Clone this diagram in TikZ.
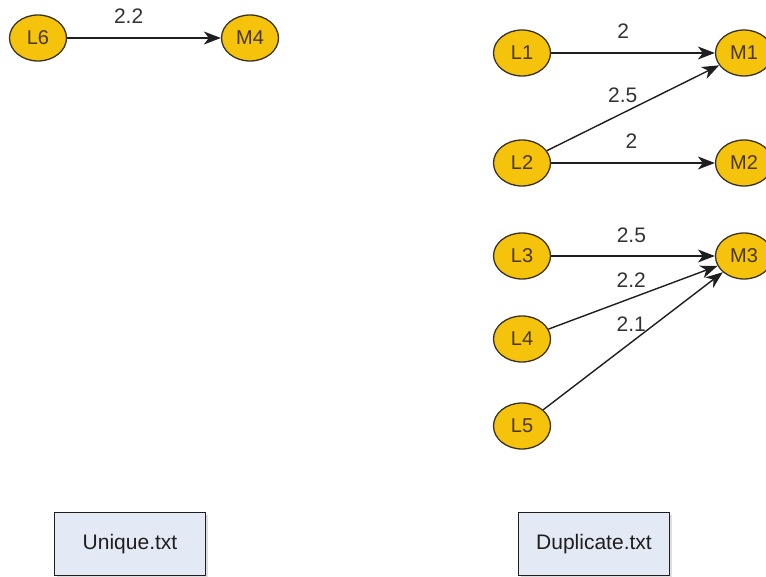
\documentclass[tikz,border=0pt]{standalone}
\usepackage{fontspec}
\setmainfont{Liberation Sans}
\usetikzlibrary{shapes.geometric,arrows.meta,shadows}

\definecolor{nodefill}{HTML}{F5C20C}
\definecolor{nodeedge}{HTML}{3A3220}
\definecolor{nodetext}{HTML}{4A3808}
\definecolor{boxfill}{HTML}{E4EAF5}
\definecolor{wire}{HTML}{1E1E1E}
\definecolor{lbltext}{HTML}{333333}

\tikzset{
  dot/.style={ellipse, draw=nodeedge, fill=nodefill, line width=1.3pt,
    minimum width=57pt, minimum height=46pt, inner sep=0pt,
    text=nodetext, font=\fontsize{20}{24}\selectfont},
  filebox/.style={rectangle, draw=wire, fill=boxfill, line width=1.2pt,
    minimum width=151pt, minimum height=63pt, inner sep=0pt,
    font=\fontsize{21}{25}\selectfont, text=wire,
    drop shadow={shadow xshift=2pt, shadow yshift=-2pt, opacity=0.25}},
  link/.style={draw=wire, line width=1.4pt,
    -{Stealth[length=17pt, width=13pt, inset=5pt]}},
  lbl/.style={anchor=center, inner sep=0pt, text=lbltext,
    font=\fontsize{21}{25}\selectfont}
}

\begin{document}
\begin{tikzpicture}[x=1pt, y=-1pt]
  \useasboundingbox (0,0) rectangle (766,577);

  % single pair
  \node[dot] (L6) at (38,38) {L6};
  \node[dot] (M4) at (250,38) {M4};
  \draw[link] (L6) -- node[lbl, pos=0.40, yshift=22pt] {2.2} (M4);

  % left column
  \node[dot] (L1) at (522,53) {L1};
  \node[dot] (L2) at (522,163) {L2};
  \node[dot] (L3) at (522,256) {L3};
  \node[dot] (L4) at (522,339) {L4};
  \node[dot] (L5) at (522,426) {L5};

  % right column
  \node[dot] (M1) at (744,53) {M1};
  \node[dot] (M2) at (744,163) {M2};
  \node[dot] (M3) at (744,256) {M3};

  \draw[link] (L1) -- node[lbl, pos=0.44, yshift=22pt] {2} (M1);
  \draw[link] (L2) -- node[lbl, pos=0.44, yshift=18pt] {2.5} (M1);
  \draw[link] (L2) -- node[lbl, pos=0.49, yshift=22pt] {2} (M2);
  \draw[link] (L3) -- node[lbl, pos=0.49, yshift=21pt] {2.5} (M3);
  \draw[link] (L4) -- node[lbl, pos=0.49, yshift=18pt] {2.2} (M3);
  \draw[link] (L5) -- node[lbl, pos=0.49, yshift=18pt] {2.1} (M3);

  % file captions
  \node[filebox] (uniq) at (130,544) {Unique.txt};
  \node[filebox] (dup) at (594,544) {Duplicate.txt};
\end{tikzpicture}
\end{document}
